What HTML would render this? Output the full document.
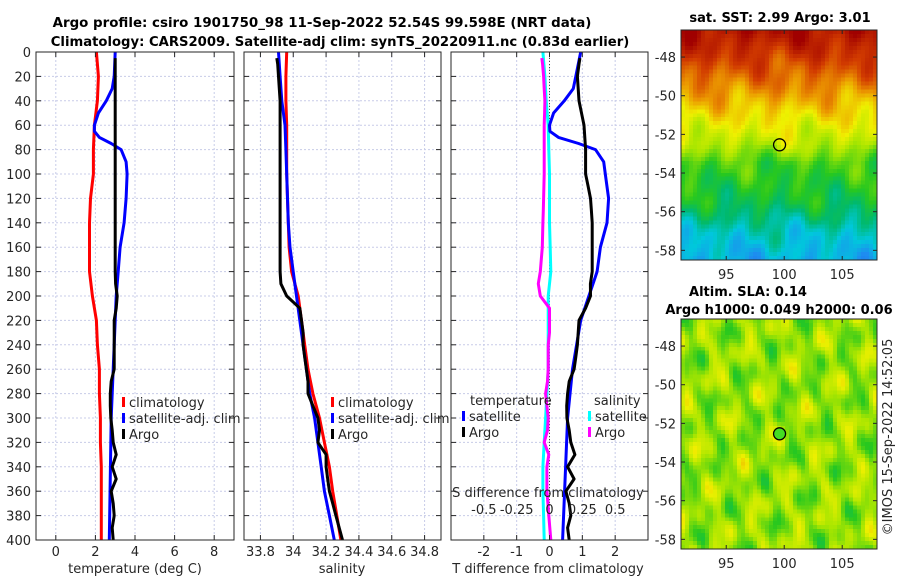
<!DOCTYPE html>
<html><head><meta charset="utf-8">
<style>
html,body{margin:0;padding:0;background:#fff;}
#wrap{position:relative;width:900px;height:580px;overflow:hidden;font-family:"DejaVu Sans","Liberation Sans",sans-serif;}
canvas{position:absolute;image-rendering:pixelated;}
svg{position:absolute;left:0;top:0;}
text{font-family:"DejaVu Sans","Liberation Sans",sans-serif;}
</style></head>
<body>
<div id="wrap">
<canvas id="sst" width="49" height="58" style="left:681px;top:30px;width:196px;height:230px"></canvas>
<canvas id="sla" width="49" height="58" style="left:681px;top:319px;width:196px;height:230px"></canvas>
<svg id="fig" width="900" height="580" xmlns="http://www.w3.org/2000/svg"></svg>
</div>
<script>
// ---- data ----
const climDepth = [0,20,40,60,80,100,120,140,160,180,200,220,240,260,280,300,320,340,360,380,400];
const climT = [2.05,2.15,2.1,1.95,1.9,1.9,1.75,1.7,1.7,1.7,1.85,2.05,2.1,2.2,2.2,2.25,2.25,2.3,2.3,2.3,2.3];
const climS = [33.96,33.955,33.955,33.96,33.96,33.96,33.965,33.97,33.975,33.99,34.03,34.05,34.07,34.09,34.12,34.16,34.19,34.22,34.24,34.265,34.29];
const satTDepth = [0,20,30,40,50,60,65,70,75,80,90,100,120,140,160,180,200,220,260,300,400];
const satT = [3.0,2.95,2.85,2.55,2.15,1.95,1.95,2.2,2.8,3.3,3.55,3.6,3.55,3.45,3.25,3.15,3.05,3.0,2.9,2.8,2.7];
const satS = [33.91,33.92,33.93,33.95,33.955,33.96,33.965,33.97,33.98,34.0,34.02,34.04,34.06,34.08,34.1,34.13,34.15,34.17,34.19,34.22,34.25];
const argoDepth = [5,10,20,30,40,50,60,70,80,90,100,110,120,130,140,150,160,170,180,190,200,210,220,230,240,250,260,270,280,290,300,310,320,330,340,350,360,370,380,390,400];
const argoT = [3.0,3.0,3.0,3.0,3.0,3.0,3.0,3.0,3.0,3.0,3.0,3.0,3.0,3.0,3.0,3.0,3.0,3.0,3.0,3.02,3.1,3.05,2.95,2.95,2.95,2.95,2.95,2.8,2.75,2.75,2.78,2.85,2.9,3.05,2.85,3.05,2.8,2.9,2.95,2.85,2.9];
const argoS = [33.9,33.905,33.91,33.915,33.92,33.92,33.92,33.92,33.92,33.92,33.92,33.92,33.92,33.92,33.92,33.92,33.92,33.92,33.92,33.925,33.96,34.04,34.05,34.06,34.06,34.07,34.08,34.09,34.09,34.12,34.15,34.16,34.15,34.2,34.2,34.21,34.22,34.24,34.26,34.28,34.3];
const depthTicks = [0,20,40,60,80,100,120,140,160,180,200,220,240,260,280,300,320,340,360,380,400];
const tTicks = [0,2,4,6,8];
const sTicks = [33.8,34,34.2,34.4,34.6,34.8];
const dTTicks = [-2,-1,0,1,2];
const dSTicks = [-0.5,-0.25,0,0.25,0.5];
const dSTickLabels = ["-0.5","-0.25","0","0.25","0.5"];
const latTicks = [-48,-50,-52,-54,-56,-58];
const lonTicks = [95,100,105];
const argoLon = 99.598, argoLat = -52.54;
const sstLatKnots = [-46.6,-47.8,-49.5,-51,-52.5,-53.5,-55.5,-57,-58.6];
const sstLevels = [0.97,0.9,0.8,0.7,0.62,0.52,0.46,0.36,0.3];

const NS="http://www.w3.org/2000/svg";
const svg=document.getElementById('fig');
function el(tag,attrs,parent){const e=document.createElementNS(NS,tag);for(const k in attrs)e.setAttribute(k,attrs[k]);(parent||svg).appendChild(e);return e;}
function txt(x,y,s,attrs,name){const t=el('text',Object.assign({x:x,y:y,'font-size':13,fill:'#262626'},attrs||{}));t.textContent=s;


return t;}
const yTop=52,yBot=540;
function yD(d){return yTop+(d/400)*(yBot-yTop);}
function interp(xs,ys,x){if(x<=xs[0])return ys[0];for(let i=1;i<xs.length;i++){if(x<=xs[i]){const f=(x-xs[i-1])/(xs[i]-xs[i-1]);return ys[i-1]+f*(ys[i]-ys[i-1]);}}return ys[ys.length-1];}

function panel(name,x0,x1,vmin,vmax,ticks){
  const g=el('g',{});
  
  
  const sx=v=>x0+(v-vmin)/(vmax-vmin)*(x1-x0);
  ticks.forEach(t=>{el('line',{x1:sx(t),x2:sx(t),y1:yTop,y2:yBot,stroke:'#c8cce8','stroke-dasharray':'2,2','stroke-width':1},g);});
  depthTicks.forEach(d=>{el('line',{x1:x0,x2:x1,y1:yD(d),y2:yD(d),stroke:'#c8cce8','stroke-dasharray':'2,2','stroke-width':1},g);});
  return {g,sx};
}
function axesFrame(g,x0,x1,sx,ticks,labels,showY){
  el('rect',{x:x0,y:yTop,width:x1-x0,height:yBot-yTop,fill:'none',stroke:'#262626','stroke-width':1},g);
  depthTicks.forEach(d=>{el('line',{x1:x0,x2:x0+5,y1:yD(d),y2:yD(d),stroke:'#262626'},g);el('line',{x1:x1-5,x2:x1,y1:yD(d),y2:yD(d),stroke:'#262626'},g);
    if(showY)txt(x0-5,yD(d)+5,String(d),{'text-anchor':'end'},'y-tick-label');});
  ticks.forEach((t,i)=>{el('line',{x1:sx(t),x2:sx(t),y1:yBot,y2:yBot-5,stroke:'#262626'},g);el('line',{x1:sx(t),x2:sx(t),y1:yTop,y2:yTop+5,stroke:'#262626'},g);
    txt(sx(t),556,labels[i],{'text-anchor':'middle'},'x-tick-label');});
}
function line(g,xs,ds,sx,color,name,w){
  const pts=xs.map((v,i)=>sx(v).toFixed(1)+','+yD(ds[i]).toFixed(1)).join(' ');
  const p=el('polyline',{points:pts,fill:'none',stroke:color,'stroke-width':w||3,'stroke-linejoin':'round'},g);
  
  
}
function legend(g,x,y,items){
  items.forEach((it,i)=>{const yy=y+i*16;
    el('rect',{x:x,y:yy-10,width:3,height:10,fill:it[1]},g);
    txt(x+7,yy,it[0],{},'legend-entry');});
}

// Titles
txt(322,27,'Argo profile: csiro 1901750_98 11-Sep-2022 52.54S 99.598E (NRT data)',{'text-anchor':'middle','font-weight':'bold','fill':'#000','font-size':13.4},'title-line-1');
txt(340,46,'Climatology: CARS2009. Satellite-adj clim: synTS_20220911.nc (0.83d earlier)',{'text-anchor':'middle','font-weight':'bold','fill':'#000','font-size':13.2},'title-line-2');

// Panel 1 temperature
let p1=panel('temperature-panel',36,234,-1,9,tTicks);
line(p1.g,climT,climDepth,p1.sx,'#ff0000','climatology-temp-line');
line(p1.g,satT,satTDepth,p1.sx,'#0000ff','satellite-temp-line');
line(p1.g,argoT,argoDepth,p1.sx,'#000000','argo-temp-line');
axesFrame(p1.g,36,234,p1.sx,tTicks,tTicks.map(String),true);
legend(p1.g,122,407,[['climatology','#ff0000'],['satellite-adj. clim','#0000ff'],['Argo','#000']]);
txt(135,573,'temperature (deg C)',{'text-anchor':'middle'},'x-axis-title-temperature');

// Panel 2 salinity
let p2=panel('salinity-panel',244,441,33.7,34.9,sTicks);
line(p2.g,climS,climDepth,p2.sx,'#ff0000','climatology-sal-line');
line(p2.g,satS,climDepth,p2.sx,'#0000ff','satellite-sal-line');
line(p2.g,argoS,argoDepth,p2.sx,'#000000','argo-sal-line');
axesFrame(p2.g,244,441,p2.sx,sTicks,sTicks.map(String),false);
legend(p2.g,331,407,[['climatology','#ff0000'],['satellite-adj. clim','#0000ff'],['Argo','#000']]);
txt(342,573,'salinity',{'text-anchor':'middle'},'x-axis-title-salinity');

// Panel 3 differences
let p3=panel('difference-panel',451,648,-3,3,dTTicks);
el('line',{x1:p3.sx(0),x2:p3.sx(0),y1:yTop,y2:yBot,stroke:'#444','stroke-dasharray':'1,2'},p3.g);
const satTDiff=satTDepth.map((d,i)=>satT[i]-interp(climDepth,climT,d));
const argoTDiff=argoDepth.map((d,i)=>argoT[i]-interp(climDepth,climT,d));
const satSDiff=climDepth.map((d,i)=>(satS[i]-climS[i])*4);
const argoSDiff=argoDepth.map((d,i)=>(argoS[i]-interp(climDepth,climS,d))*4);
line(p3.g,satSDiff,climDepth,p3.sx,'#00ffff','satellite-sal-diff-line');
line(p3.g,argoSDiff,argoDepth,p3.sx,'#ff00ff','argo-sal-diff-line');
line(p3.g,satTDiff,satTDepth,p3.sx,'#0000ff','satellite-temp-diff-line');
line(p3.g,argoTDiff,argoDepth,p3.sx,'#000000','argo-temp-diff-line');
axesFrame(p3.g,451,648,p3.sx,dTTicks,dTTicks.map(String),false);
dSTicks.forEach((t,i)=>{txt(p3.sx(t*4),514,dSTickLabels[i],{'text-anchor':'middle'},'s-diff-tick-label');});
txt(548,497,'S difference from climatology',{'text-anchor':'middle'},'s-diff-axis-title');
txt(470,405,'temperature',{},'legend-title-temperature');
txt(594,405,'salinity',{},'legend-title-salinity');
legend(p3.g,462,421,[['satellite','#0000ff'],['Argo','#000']]);
legend(p3.g,588,421,[['satellite','#00ffff'],['Argo','#ff00ff']]);
txt(548,573,'T difference from climatology',{'text-anchor':'middle'},'x-axis-title-difference');

// Maps
function mapAxes(name,top,bot,latTopV,latBotV){
  const x0=681,x1=877,lonMin=91.1,lonMax=108;
  const sx=v=>x0+(v-lonMin)/(lonMax-lonMin)*(x1-x0);
  const sy=v=>top+(latTopV-v)/(latTopV-latBotV)*(bot-top);
  const g=el('g',{});
  
  
  el('rect',{x:x0,y:top,width:x1-x0,height:bot-top,fill:'none',stroke:'#262626'},g);
  latTicks.forEach(l=>{el('line',{x1:x0,x2:x0+4,y1:sy(l),y2:sy(l),stroke:'#262626'},g);el('line',{x1:x1-4,x2:x1,y1:sy(l),y2:sy(l),stroke:'#262626'},g);
    txt(x0-5,sy(l)+5,String(l),{'text-anchor':'end'},'lat-tick-label');});
  lonTicks.forEach(l=>{el('line',{x1:sx(l),x2:sx(l),y1:bot,y2:bot-4,stroke:'#262626'},g);el('line',{x1:sx(l),x2:sx(l),y1:top,y2:top+4,stroke:'#262626'},g);
    txt(sx(l),bot+19,String(l),{'text-anchor':'middle'},'lon-tick-label');});
  const c=el('ellipse',{cx:sx(argoLon),cy:sy(argoLat),rx:6,ry:6,fill:name==='sla-map-axes'?'#44dd22':'none',stroke:'#000','stroke-width':1.3},g);
  
  
}
mapAxes('sst-map-axes',30,260,-46.6,-58.5);
mapAxes('sla-map-axes',319,549,-46.6,-58.5);
txt(780,22,'sat. SST: 2.99 Argo: 3.01',{'text-anchor':'middle','font-weight':'bold','fill':'#000'},'sst-map-title');
txt(748,296,'Altim. SLA: 0.14',{'text-anchor':'middle','font-weight':'bold','fill':'#000'},'sla-map-title-1');
txt(779,314,'Argo h1000: 0.049 h2000: 0.06',{'text-anchor':'middle','font-weight':'bold','fill':'#000'},'sla-map-title-2');
txt(0,0,'©IMOS 15-Sep-2022 14:52:05',{'text-anchor':'middle',transform:'translate(892,437) rotate(-90)'},'copyright-timestamp');

// heatmap rendering with explicit colour stops
const cmapPos=[0.0,0.25,0.34,0.42,0.5,0.6,0.68,0.78,0.88,1.0];
const cmapCol=[[20,60,230],[30,140,240],[0,200,220],[0,185,110],[40,200,30],[170,230,0],[240,240,0],[235,150,0],[210,60,0],[160,0,0]];
function cmap(v){v=Math.max(0,Math.min(1,v));
  for(let i=1;i<cmapPos.length;i++){if(v<=cmapPos[i]){const f=(v-cmapPos[i-1])/(cmapPos[i]-cmapPos[i-1]);const a=cmapCol[i-1],b=cmapCol[i];return [a[0]+f*(b[0]-a[0]),a[1]+f*(b[1]-a[1]),a[2]+f*(b[2]-a[2])];}}
  return cmapCol[cmapCol.length-1];}
function draw(id,fn){const c=document.getElementById(id),ctx=c.getContext('2d'),im=ctx.createImageData(c.width,c.height);
  for(let j=0;j<c.height;j++)for(let i=0;i<c.width;i++){const lon=91.1+(i+0.5)/c.width*16.9,lat=-46.6-(j+0.5)/c.height*11.9;
    const col=cmap(fn(lon,lat));const k=(j*c.width+i)*4;im.data[k]=col[0];im.data[k+1]=col[1];im.data[k+2]=col[2];im.data[k+3]=255;}
  ctx.putImageData(im,0,0);}
draw('sst',(lon,lat)=>{
  let base=interp(sstLatKnots.map(v=>-v),sstLevels,-lat);
  base+=0.03*Math.sin(lon*1.3+lat*0.9)+0.025*Math.sin(lon*2.7-lat*1.7)+0.02*Math.cos(lon*0.7+lat*2.3);
  return base;});
draw('sla',(lon,lat)=>{
  return 0.585+0.04*Math.sin(lon*1.9+lat*0.8)+0.035*Math.cos(lon*1.1-lat*2.1)+0.025*Math.sin(lon*3.1+lat*2.6)+0.02*Math.cos(lon*0.6+lat*3.4)+0.015*Math.sin(lon*4.3-lat*1.3);});
</script>
</body></html>
